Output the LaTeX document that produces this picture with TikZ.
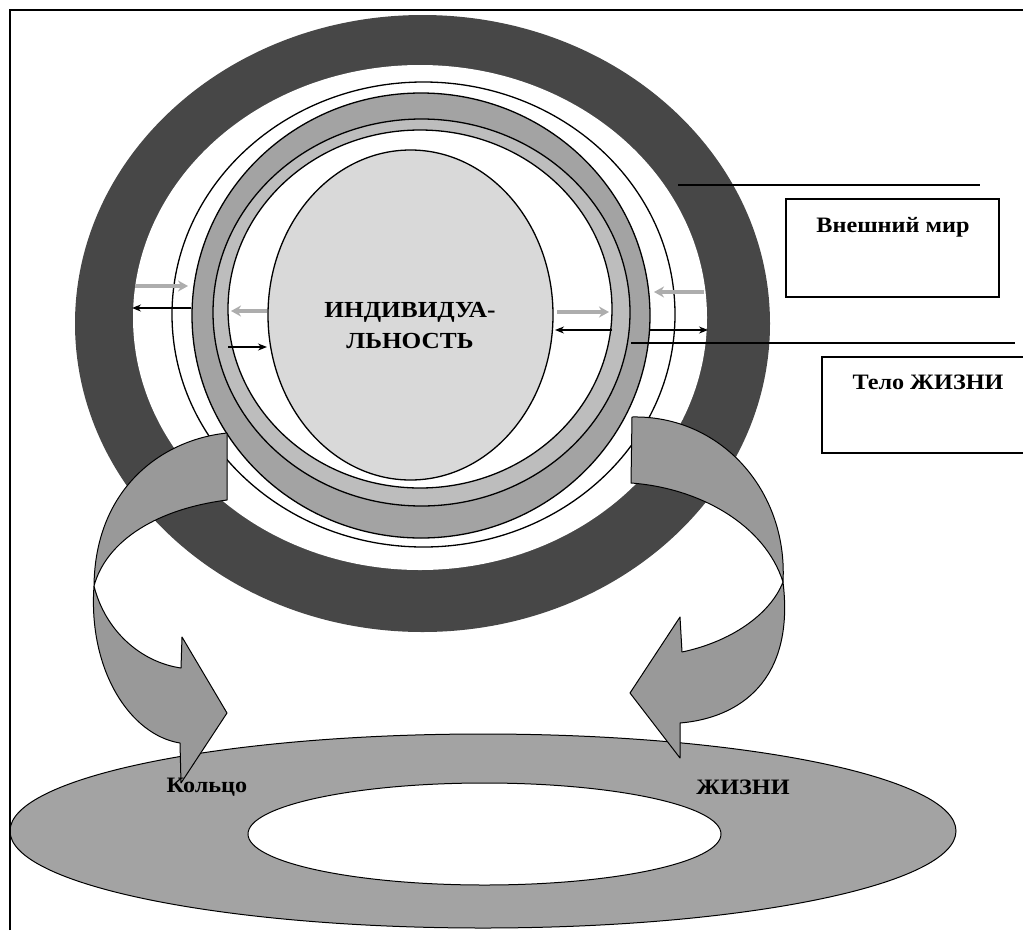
\documentclass[tikz,border=0pt]{standalone}
\usepackage{fontspec}
\setmainfont{Liberation Serif}
\newfontfamily\lab[FakeStretch=1.1]{Liberation Serif}
\usetikzlibrary{arrows.meta}
\definecolor{darkring}{gray}{0.28}
\definecolor{band}{gray}{0.64}
\definecolor{lband}{gray}{0.74}
\definecolor{core}{gray}{0.85}
\definecolor{ribbon}{gray}{0.6}
\definecolor{floorc}{gray}{0.64}
\definecolor{pale}{gray}{0.68}
\begin{document}
\begin{tikzpicture}[x=1pt,y=-1pt,
  ringline/.style={draw=black, line width=1.3pt},
  blackarrow/.style={draw=black, line width=1.3pt, -{Stealth[length=9pt,width=7pt]}},
  palearrow/.style={draw=pale, line width=3.5pt, -{Stealth[length=10pt,width=11pt]}},
  ribbonstyle/.style={fill=ribbon, draw=black, line width=1pt, line join=round},
  lbl/.style={font=\lab\bfseries\fontsize{22pt}{26pt}\selectfont, inner sep=0pt},
  boxstyle/.style={draw=black, line width=1.3pt, inner sep=0pt},
  leader/.style={draw=black, line width=1.3pt},
]
\useasboundingbox (0,0) rectangle (1023,930);

% ring of life (bottom)
\filldraw[fill=floorc, draw=black, line width=1pt] (483,831) ellipse [x radius=473, y radius=97];
\filldraw[fill=white, draw=black, line width=1pt] (484.5,834) ellipse [x radius=236.5, y radius=51];

% concentric rings
\fill[darkring] (422.5,323.5) ellipse [x radius=347.5, y radius=308.5];
\fill[white] (420,317.5) ellipse [x radius=287, y radius=252.5];
\draw[ringline] (423.5,314.5) ellipse [x radius=251.5, y radius=232.5];
\filldraw[ringline, fill=band] (421,315.5) ellipse [x radius=229, y radius=222.5];
\filldraw[ringline, fill=lband] (421.5,312.5) ellipse [x radius=208.5, y radius=193.5];
\filldraw[ringline, fill=white] (420,309) ellipse [x radius=192, y radius=179];
\filldraw[ringline, fill=core] (410.5,315) ellipse [x radius=142.5, y radius=165];

\node[lbl, align=center, font=\lab\bfseries\fontsize{23pt}{31pt}\selectfont] (ind) at (410,326) {ИНДИВИДУА-\\ЛЬНОСТЬ};

% small arrows, left side
\coordinate (a1s) at (135,286); \coordinate (a1e) at (188,286);
\coordinate (a2s) at (191,308); \coordinate (a2e) at (132,308);
\coordinate (a3s) at (267,311); \coordinate (a3e) at (231,311);
\coordinate (a4s) at (228,347); \coordinate (a4e) at (267,347);
\draw[palearrow] (a1s) -- (a1e);
\draw[blackarrow] (a2s) -- (a2e);
\draw[palearrow] (a3s) -- (a3e);
\draw[blackarrow] (a4s) -- (a4e);
% small arrows, right side
\coordinate (b1s) at (557,312); \coordinate (b1e) at (609,312);
\coordinate (b2s) at (612,330); \coordinate (b2e) at (555,330);
\coordinate (b3s) at (650,330); \coordinate (b3e) at (708,330);
\coordinate (b4s) at (704,292); \coordinate (b4e) at (654,292);
\draw[palearrow] (b1s) -- (b1e);
\draw[blackarrow] (b2s) -- (b2e);
\draw[blackarrow] (b3s) -- (b3e);
\draw[palearrow] (b4s) -- (b4e);

% left ribbon arrow
\filldraw[ribbonstyle] (227,433) .. controls (160,440) and (95,490) .. (94,586)
  .. controls (105,545) and (150,510) .. (227,500) -- cycle;
\filldraw[ribbonstyle] (94,586) .. controls (88,670) and (130,735) .. (180,743)
  -- (181,783) -- (227,713) -- (182,637) -- (181,668)
  .. controls (140,662) and (105,630) .. (94,586) -- cycle;
% right ribbon arrow
\filldraw[ribbonstyle] (632,417) .. controls (720,415) and (788,490) .. (783,582)
  .. controls (765,525) and (700,488) .. (631,483) -- cycle;
\filldraw[ribbonstyle] (783,582) .. controls (795,680) and (740,718) .. (680,723)
  -- (680,758) -- (630,693) -- (680,617) -- (682,652)
  .. controls (730,642) and (770,615) .. (783,582) -- cycle;

% labels of the ring of life
\node[lbl] (kol) at (207,787) {Кольцо};
\node[lbl] (zhi) at (743,787) {ЖИЗНИ};

% leaders and boxes
\coordinate (lA1) at (678,185); \coordinate (lA2) at (980,185);
\coordinate (lB1) at (631,343); \coordinate (lB2) at (1015,343);
\draw[leader] (lA1) -- (lA2);
\draw[leader] (lB1) -- (lB2);
\node[boxstyle, minimum width=213pt, minimum height=98pt] (box1) at (892.5,248) {};
\node[lbl] (t1) at (893,227) {Внешний мир};
\node[boxstyle, minimum width=220pt, minimum height=96pt] (box2) at (932,405) {};
\node[lbl] (t2) at (928,382) {Тело ЖИЗНИ};

% frame
\draw[line width=2pt] (10,930) -- (10,10) -- (1023,10);
\end{tikzpicture}
\end{document}
